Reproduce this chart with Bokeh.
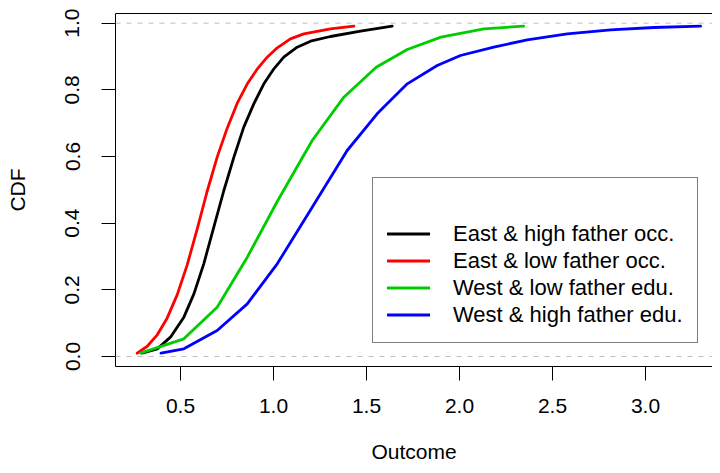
from bokeh.plotting import figure
from bokeh.models import (Range1d, FixedTicker, LinearAxis, Span, Legend, LegendItem)
from bokeh.embed import file_html
from bokeh.resources import INLINE

# ---- data ----
series_names = ["East & high father occ.", "East & low father occ.",
                "West & low father edu.", "West & high father edu."]
series_colors = ["#000000", "#FF0000", "#00CD00", "#0000FF"]

east_high_x = [0.294, 0.375, 0.446, 0.518, 0.572, 0.625, 0.679, 0.733, 0.787, 0.840,
               0.894, 0.948, 1.002, 1.055, 1.127, 1.199, 1.306, 1.468, 1.638]
east_high_y = [0.010, 0.023, 0.058, 0.118, 0.188, 0.278, 0.388, 0.498, 0.598, 0.688,
               0.758, 0.818, 0.863, 0.898, 0.928, 0.946, 0.960, 0.976, 0.991]

east_low_x = [0.267, 0.320, 0.375, 0.428, 0.482, 0.536, 0.590, 0.643, 0.697, 0.751,
              0.805, 0.859, 0.912, 0.966, 1.020, 1.091, 1.163, 1.306, 1.432]
east_low_y = [0.010, 0.030, 0.065, 0.115, 0.185, 0.275, 0.383, 0.495, 0.598, 0.685,
              0.760, 0.818, 0.862, 0.898, 0.926, 0.953, 0.968, 0.983, 0.991]

west_low_x = [0.285, 0.518, 0.697, 0.859, 1.020, 1.208, 1.378, 1.552, 1.719, 1.900,
              2.131, 2.345]
west_low_y = [0.010, 0.053, 0.148, 0.298, 0.465, 0.648, 0.778, 0.868, 0.921, 0.958,
              0.983, 0.991]

west_high_x = [0.395, 0.518, 0.697, 0.859, 1.020, 1.208, 1.396, 1.557, 1.719, 1.880,
               2.005, 2.184, 2.364, 2.579, 2.812, 3.045, 3.296]
west_high_y = [0.010, 0.023, 0.078, 0.158, 0.278, 0.448, 0.618, 0.728, 0.818, 0.873,
               0.903, 0.928, 0.950, 0.968, 0.980, 0.987, 0.991]

x_ticks = [0.5, 1.0, 1.5, 2.0, 2.5, 3.0]
x_tick_labels = ["0.5", "1.0", "1.5", "2.0", "2.5", "3.0"]
y_ticks = [0.0, 0.2, 0.4, 0.6, 0.8, 1.0]
y_tick_labels = ["0.0", "0.2", "0.4", "0.6", "0.8", "1.0"]
ref_lines = [0.0, 1.0]

xs = [east_high_x, east_low_x, west_low_x, west_high_x]
ys = [east_high_y, east_low_y, west_low_y, west_high_y]

FONT = "Liberation Sans"
FS = "21px"

p = figure(width=712, height=465, output_backend="svg", toolbar_location=None,
           x_range=Range1d(0.1505, 3.360), y_range=Range1d(-0.030, 1.029),
           x_axis_label="Outcome", y_axis_label="CDF",
           min_border_left=115, min_border_right=0, min_border_top=13,
           min_border_bottom=99)
p.background_fill_color = "white"
p.border_fill_color = "white"
p.grid.visible = False
p.outline_line_color = None

for ax in (p.xaxis[0], p.yaxis[0]):
    ax.axis_line_color = "black"
    ax.axis_line_width = 1
    ax.major_tick_out = 14
    ax.major_tick_in = 0
    ax.major_tick_line_color = "black"
    ax.minor_tick_line_color = None
    ax.major_label_text_font = FONT
    ax.major_label_text_font_size = FS
    ax.major_label_text_color = "black"
    ax.axis_label_text_font = FONT
    ax.axis_label_text_font_size = FS
    ax.axis_label_text_font_style = "normal"
    ax.axis_label_text_color = "black"

p.xaxis[0].ticker = FixedTicker(ticks=x_ticks)
p.xaxis[0].major_label_overrides = {t: l for t, l in zip(x_ticks, x_tick_labels)}
p.xaxis[0].major_label_standoff = 18
p.xaxis[0].axis_label_standoff = 24

p.yaxis[0].ticker = FixedTicker(ticks=y_ticks)
p.yaxis[0].major_label_overrides = {t: l for t, l in zip(y_ticks, y_tick_labels)}
p.yaxis[0].major_label_orientation = "vertical"
p.yaxis[0].major_label_standoff = 22
p.yaxis[0].axis_label_standoff = 34

# top border of the box
top = LinearAxis(ticker=FixedTicker(ticks=[]), major_tick_out=0, major_tick_in=0,
                 minor_tick_out=0, major_label_standoff=0, axis_line_color="black",
                 major_label_text_font_size="0px")
p.add_layout(top, "above")

for loc in ref_lines:
    p.add_layout(Span(location=loc, dimension="width", line_color="#bebebe",
                      line_dash="5 6", line_width=1))

items = []
for x, y, name, col in zip(xs, ys, series_names, series_colors):
    r = p.line(x, y, line_color=col, line_width=2.8, line_join="round", line_cap="round")
    items.append(LegendItem(label=name, renderers=[r]))

legend = Legend(items=items, location=(257, 23), title=" ",
                title_text_font_size="20px", title_standoff=5,
                label_text_font=FONT, label_text_font_size="22px", label_text_color="black",
                label_height=27, glyph_height=27, glyph_width=43, label_standoff=23,
                spacing=0, padding=14, margin=0,
                border_line_color="black", border_line_width=1,
                background_fill_color="white", background_fill_alpha=1.0)
p.add_layout(legend, "center")

open("out.html", "w").write(file_html(p, INLINE))
